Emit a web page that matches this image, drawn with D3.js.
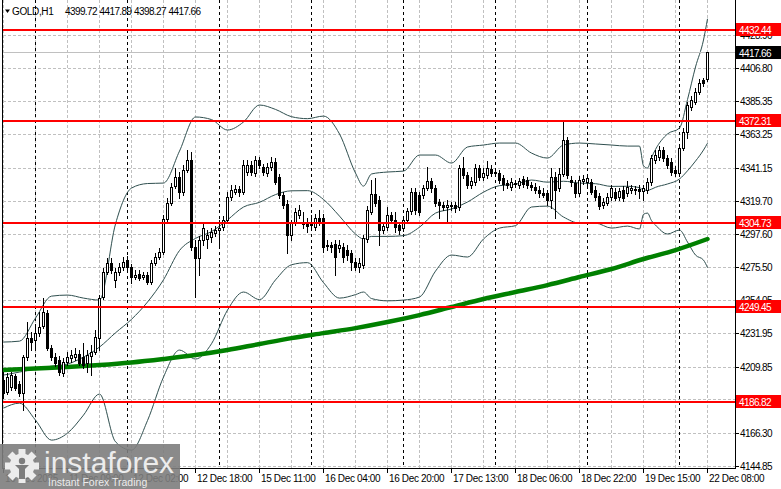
<!DOCTYPE html>
<html><head><meta charset="utf-8">
<script src="https://cdn.jsdelivr.net/npm/d3@7"></script>
<style>
body{margin:0;background:#fff;}
svg{display:block;}
text{font-family:"Liberation Sans",Arial,sans-serif;}
</style>
</head><body>
<svg id="c" width="781" height="489"></svg>
<script>
// ---------------- DATA ----------------
const symbol = "GOLD,H1";
const opens = [
4201.2,4193.3,4196.6,4203.8,4198.6,4192.6,4216.4,4228.9,4227.6,4232.2,
4236.8,4245.4,4222.3,4216.4,4214.4,4205.8,4213.1,4215.7,4216.4,4218.4,
4216.4,4212.4,4217.0,4219.7,4228.9,4256.0,4272.5,4278.4,4267.2,4272.5,
4275.8,4280.4,4275.8,4269.2,4271.2,4269.2,4270.5,4265.9,4278.4,4282.4,
4285.7,4307.5,4318.0,4329.2,4335.2,4325.3,4339.8,4346.4,4289.0,4281.7,
4293.6,4294.3,4295.6,4298.2,4300.2,4302.2,4306.8,4322.0,4325.3,4327.3,
4325.3,4338.5,4343.1,4337.8,4346.4,4341.8,4337.8,4341.8,4345.1,4335.2,
4323.3,4317.4,4296.9,4305.5,4310.1,4305.5,4305.5,4304.8,4302.2,4308.1,
4308.1,4290.3,4290.3,4291.0,4288.3,4289.0,4287.0,4285.0,4279.1,4275.8,
4277.1,4294.3,4312.1,4324.0,4320.0,4300.2,4302.2,4310.1,4306.8,4303.5,
4301.5,4306.8,4312.7,4325.3,4323.3,4323.3,4327.9,4332.5,4327.9,4318.7,
4316.7,4315.4,4316.0,4316.7,4315.4,4341.1,4336.5,4329.9,4331.9,4341.1,
4335.2,4336.5,4340.5,4338.5,4337.8,4334.5,4331.2,4328.6,4330.6,4329.9,
4333.9,4333.2,4329.9,4328.6,4326.6,4324.6,4324.6,4320.0,4335.2,4327.9,
4337.2,4359.6,4333.2,4331.2,4324.6,4332.5,4331.9,4331.9,4326.6,4322.6,
4316.7,4318.0,4322.0,4325.3,4322.0,4326.6,4324.6,4326.6,4326.6,4327.3,
4325.9,4326.6,4331.9,4346.4,4348.4,4353.0,4347.7,4345.1,4339.8,4337.8,
4354.3,4364.9,4381.4,4384.7,4391.3,4399.2,4399.72];
const highs = [
4206.5,4205.8,4206.5,4205.2,4200.5,4217.7,4239.5,4232.9,4237.5,4246.1,
4255.3,4247.4,4224.3,4219.0,4217.0,4215.7,4219.7,4221.0,4222.3,4221.0,
4225.6,4221.0,4224.3,4234.2,4257.3,4275.1,4281.7,4281.7,4275.1,4278.4,
4282.4,4283.0,4277.8,4273.8,4273.8,4272.5,4272.5,4280.4,4285.0,4288.3,
4310.1,4321.3,4331.2,4341.1,4338.5,4343.1,4353.0,4351.7,4293.6,4296.2,
4304.2,4300.2,4301.5,4302.8,4306.8,4309.4,4325.3,4329.9,4329.9,4329.2,
4346.4,4346.4,4345.7,4349.0,4348.4,4343.8,4344.4,4348.4,4347.7,4337.2,
4325.3,4320.0,4306.8,4314.7,4316.7,4312.1,4308.1,4310.1,4310.8,4313.4,
4310.8,4293.6,4292.3,4293.6,4293.6,4291.6,4290.3,4287.0,4281.7,4281.7,
4296.9,4316.0,4333.2,4334.5,4322.6,4305.5,4315.4,4312.1,4312.1,4305.5,
4309.4,4314.7,4327.9,4327.9,4325.3,4329.9,4341.8,4334.5,4329.9,4320.7,
4318.7,4320.0,4318.7,4318.7,4343.1,4348.4,4338.5,4335.2,4343.8,4343.1,
4341.1,4345.7,4343.1,4341.1,4339.8,4336.5,4333.2,4334.5,4333.2,4334.5,
4335.8,4335.2,4331.9,4331.2,4329.2,4327.9,4326.6,4341.1,4338.5,4341.1,
4372.8,4361.6,4335.8,4333.2,4335.8,4336.5,4337.2,4333.9,4329.2,4324.6,
4321.3,4324.6,4329.9,4327.9,4327.9,4329.2,4332.5,4329.9,4329.2,4329.9,
4329.9,4334.5,4349.7,4353.0,4355.6,4355.0,4349.7,4347.7,4342.4,4356.3,
4367.5,4384.7,4388.6,4393.9,4399.9,4400.5,4417.89];
const lows = [
4189.3,4192.0,4194.6,4194.6,4190.6,4181.4,4214.4,4221.0,4221.0,4230.2,
4235.5,4221.0,4214.4,4210.4,4204.5,4203.8,4211.1,4213.1,4214.4,4211.1,
4209.1,4206.5,4204.5,4218.4,4221.0,4254.7,4271.2,4271.8,4262.6,4270.5,
4273.8,4273.8,4265.2,4267.9,4267.2,4267.9,4264.6,4264.6,4277.1,4281.1,
4284.4,4306.1,4316.7,4327.9,4321.3,4323.3,4338.5,4287.0,4256.0,4270.5,
4290.3,4288.3,4292.3,4296.2,4290.3,4300.2,4305.5,4320.0,4324.0,4322.6,
4324.0,4336.5,4336.5,4335.8,4341.1,4336.5,4335.8,4339.8,4330.6,4321.3,
4314.7,4285.0,4293.6,4303.5,4308.1,4301.5,4298.9,4300.2,4300.2,4303.5,
4285.7,4287.0,4285.7,4270.5,4285.7,4279.1,4280.4,4273.8,4273.8,4272.5,
4275.1,4292.3,4310.8,4316.0,4290.3,4298.2,4300.2,4304.8,4298.9,4297.6,
4299.5,4304.8,4310.8,4310.8,4310.1,4321.3,4326.6,4325.3,4316.0,4308.1,
4313.4,4305.5,4313.4,4312.1,4313.4,4334.5,4327.9,4327.9,4329.9,4333.2,
4333.2,4334.5,4335.8,4335.8,4331.2,4326.6,4327.9,4326.6,4328.6,4327.9,
4328.6,4327.9,4326.6,4324.6,4322.0,4322.0,4316.7,4314.7,4308.1,4325.9,
4335.8,4334.5,4329.2,4322.0,4322.6,4330.6,4329.9,4324.0,4320.0,4314.1,
4314.7,4316.7,4320.0,4320.0,4320.0,4319.3,4322.6,4324.6,4324.0,4321.3,
4320.0,4324.6,4329.9,4344.4,4346.4,4345.7,4341.1,4336.5,4335.8,4335.8,
4353.0,4360.9,4379.4,4383.4,4390.0,4395.2,4398.27];
const closes = [
4192.6,4203.2,4204.5,4195.9,4192.6,4216.4,4228.9,4226.3,4232.2,4236.2,
4246.1,4222.3,4216.4,4212.4,4206.5,4213.1,4216.4,4217.7,4218.4,4212.4,
4211.1,4217.7,4219.7,4229.6,4255.3,4272.5,4278.4,4273.8,4272.5,4275.8,
4279.1,4275.8,4269.2,4270.5,4268.5,4270.5,4265.9,4278.4,4282.4,4285.7,
4307.5,4318.0,4328.6,4335.2,4325.3,4339.8,4346.4,4289.0,4281.7,4293.6,
4301.5,4296.9,4298.9,4300.2,4301.5,4306.8,4322.0,4326.6,4327.3,4325.3,
4343.1,4343.1,4338.5,4346.4,4343.1,4338.5,4341.8,4345.1,4331.9,4323.3,
4316.7,4296.9,4304.8,4312.1,4313.4,4304.2,4302.8,4303.5,4308.1,4305.5,
4289.0,4289.6,4289.0,4282.4,4290.3,4282.4,4283.7,4279.1,4275.8,4278.4,
4294.9,4313.4,4324.0,4318.0,4300.2,4302.8,4310.1,4306.8,4302.2,4300.2,
4306.8,4312.7,4325.3,4313.4,4312.1,4327.9,4332.5,4327.9,4318.0,4316.7,
4315.4,4316.7,4316.7,4314.7,4341.1,4336.5,4329.9,4332.5,4341.1,4335.2,
4337.8,4341.1,4337.8,4337.8,4333.2,4330.6,4329.9,4331.9,4331.2,4332.5,
4330.6,4329.9,4328.6,4326.6,4324.6,4323.3,4320.0,4335.2,4326.6,4337.2,
4359.6,4336.5,4331.9,4324.6,4333.2,4333.9,4334.5,4325.3,4322.0,4316.0,
4318.7,4322.0,4327.9,4321.3,4325.9,4321.3,4328.6,4327.9,4327.3,4325.9,
4327.9,4331.9,4347.7,4349.7,4353.0,4347.7,4343.1,4338.5,4337.8,4354.3,
4364.9,4382.7,4386.0,4391.3,4397.2,4397.2,4417.66];

// Bollinger bands, sampled at bar indices
const bbBars = [0,4,8,12,16,20,24,28,32,36,40,44,48,52,56,60,64,68,72,76,80,84,88,90,92,96,100,104,108,112,116,120,124,128,132,136,140,144,148,152,156,159,160,161,162,163,166,169,171,173,175,176];
const bbUpper = [4226.3,4226.9,4242.1,4256.6,4257.3,4255.3,4254.0,4304.2,4327.9,4330.9,4331.2,4352.3,4374.8,4373.1,4366.2,4371.5,4382.7,4379.8,4375.0,4373.7,4375.4,4363.6,4337.8,4329.2,4337.2,4338.5,4339.1,4349.7,4349.7,4344.4,4355.0,4356.3,4357.6,4357.6,4351.0,4347.7,4356.3,4357.6,4357.0,4356.3,4355.6,4355.6,4342.6,4341.1,4348.0,4353.4,4363.6,4367.5,4386.3,4407.8,4425.6,4439.6];
const bbMiddle = [4204.5,4206.5,4208.5,4210.4,4211.8,4216.4,4223.0,4232.4,4241.3,4252.7,4267.4,4286.7,4294.7,4299.2,4306.9,4315.4,4318.5,4323.6,4326.1,4326.2,4320.4,4309.4,4297.6,4294.3,4296.0,4296.0,4296.5,4302.1,4311.4,4314.1,4318.7,4325.2,4329.5,4330.4,4333.2,4331.8,4332.4,4331.2,4330.8,4329.0,4329.1,4328.2,4326.6,4326.4,4327.2,4328.4,4330.6,4333.9,4339.3,4345.7,4353.0,4357.5];
const bbLower = [4182.7,4186.0,4174.8,4161.6,4166.2,4178.1,4192.0,4160.5,4155.0,4174.5,4203.2,4221.0,4215.1,4225.2,4247.4,4259.3,4254.3,4267.3,4277.3,4278.7,4265.5,4255.3,4257.6,4259.3,4255.0,4253.5,4254.0,4256.0,4273.1,4283.7,4282.4,4294.3,4301.5,4303.1,4315.4,4316.0,4308.8,4304.8,4304.8,4301.5,4302.8,4300.9,4310.6,4311.4,4306.4,4303.5,4297.6,4300.2,4292.3,4283.7,4280.4,4275.4];

// Moving average (thick green), sampled every 8 bars
const maBars = [0,8,16,24,32,40,48,56,64,72,80,88,96,104,112,120,128,136,144,152,160,168,176];
const maValues = [4207.8,4208.8,4209.8,4211.1,4212.8,4215.1,4217.7,4221.0,4225.0,4228.9,4232.2,4235.5,4239.5,4244.1,4249.4,4254.7,4259.3,4263.9,4269.2,4274.5,4281.1,4287.0,4294.3];

// Horizontal levels
const levels = [4432.44, 4372.31, 4304.73, 4249.45, 4186.82];
const lastPrice = 4417.66;

// Price axis ticks
const priceTicks = [4144.85,4166.30,4188.40,4209.85,4231.95,4254.05,4275.50,4297.60,4319.70,4341.15,4363.25,4385.35,4406.80,4428.90];

// Time axis labels (bar index -> label)
const timeBars = [0,16,32,48,64,80,96,112,128,144,160,176];
const timeLabels = ["10 Dec 2025","11 Dec 09:00","12 Dec 02:00","12 Dec 18:00","15 Dec 11:00","16 Dec 04:00","16 Dec 20:00","17 Dec 13:00","18 Dec 06:00","18 Dec 22:00","19 Dec 15:00","22 Dec 08:00"];
// Day separators (first bar of each day)
const dayStartBars = [8,31,54,77,100,123,146,169];

// ---------------- DRAW ----------------
const W = 781, H = 489;
const plotL = 3, plotR = 735, plotB = 468;
const n = closes.length;
const svg = d3.select("#c");
const x = d3.scaleLinear().domain([0, n - 1]).range([3, 707]);
const y = d3.scaleLinear().domain([4144.85, 4428.90]).range([465.5, 35]);
const px = i => Math.round(x(i));
const py = v => Math.round(y(v));

svg.append("rect").attr("width", W).attr("height", H).attr("fill", "#fff");
svg.append("clipPath").attr("id", "clip").append("rect")
  .attr("x", plotL).attr("y", 0).attr("width", plotR - plotL).attr("height", plotB);
const plot = svg.append("g").attr("clip-path", "url(#clip)");

// horizontal grid
plot.selectAll(".hg").data(priceTicks).join("line")
  .attr("x1", plotL).attr("x2", plotR)
  .attr("y1", d => py(d) + 0.5).attr("y2", d => py(d) + 0.5)
  .attr("stroke", "#c0c0c0").attr("stroke-dasharray", "3,2");
// vertical grid
const gridBars = d3.range(0, n, 8);
plot.selectAll(".vg").data(gridBars).join("line")
  .attr("x1", d => px(d) + 0.5).attr("x2", d => px(d) + 0.5)
  .attr("y1", 0).attr("y2", plotB)
  .attr("stroke", "#c0c0c0").attr("stroke-dasharray", "3,2");
// day separators
plot.selectAll(".ds").data(dayStartBars).join("line")
  .attr("x1", d => px(d) + 0.5).attr("x2", d => px(d) + 0.5)
  .attr("y1", 0).attr("y2", plotB)
  .attr("stroke", "#000").attr("stroke-dasharray", "3,3");

// Bollinger bands
const bandLine = d3.line().x((d, i) => x(bbBars[i]) + 0.5).y(d => y(d)).curve(d3.curveMonotoneX);
[bbUpper, bbMiddle, bbLower].forEach(arr => {
  plot.append("path").attr("d", bandLine(arr)).attr("fill", "none")
    .attr("stroke", "#2f4f4f").attr("stroke-width", 1);
});

// Moving average
const maLine = d3.line().x((d, i) => x(maBars[i]) + 0.5).y(d => y(d)).curve(d3.curveMonotoneX);
plot.append("path").attr("d", maLine(maValues)).attr("fill", "none")
  .attr("stroke", "#008000").attr("stroke-width", 4.5).attr("stroke-linecap", "round");

// last price line
plot.append("line").attr("x1", plotL).attr("x2", plotR)
  .attr("y1", py(lastPrice) + 0.5).attr("y2", py(lastPrice) + 0.5)
  .attr("stroke", "#c0c0c0");

// candles
const idx = d3.range(n);
const cg = plot.append("g");
cg.selectAll(".wick").data(idx).join("line")
  .attr("x1", i => px(i) + 0.5).attr("x2", i => px(i) + 0.5)
  .attr("y1", i => py(highs[i])).attr("y2", i => py(lows[i]) + 1)
  .attr("stroke", "#000").attr("stroke-width", 1);
cg.selectAll(".body").data(idx).join("rect")
  .attr("x", i => px(i) - 0.5)
  .attr("y", i => Math.min(py(opens[i]), py(closes[i])) + 0.5)
  .attr("width", 2)
  .attr("height", i => Math.max(0, Math.abs(py(opens[i]) - py(closes[i]))))
  .attr("fill", i => closes[i] >= opens[i] ? "#fff" : "#000")
  .attr("stroke", "#000").attr("stroke-width", 1);

// level lines
plot.selectAll(".lvl").data(levels).join("line")
  .attr("x1", plotL).attr("x2", plotR)
  .attr("y1", d => py(d)).attr("y2", d => py(d))
  .attr("stroke", "#ff0000").attr("stroke-width", 2);

// frame
svg.append("line").attr("x1", 2.5).attr("x2", 2.5).attr("y1", 0).attr("y2", plotB + 1).attr("stroke", "#000");
svg.append("line").attr("x1", plotR + 0.5).attr("x2", plotR + 0.5).attr("y1", 0).attr("y2", plotB + 1).attr("stroke", "#000");
svg.append("line").attr("x1", 2).attr("x2", plotR + 1).attr("y1", plotB + 0.5).attr("y2", plotB + 0.5).attr("stroke", "#000");

// price axis
const fontSize = 10, ls = -0.35, lsNum = -0.6;
svg.selectAll(".pt").data(priceTicks).join("line")
  .attr("x1", plotR + 1).attr("x2", plotR + 4)
  .attr("y1", d => py(d) + 0.5).attr("y2", d => py(d) + 0.5).attr("stroke", "#000");
// tick labels fully hidden under a level label are not drawn
const visibleTicks = priceTicks.filter(t => !levels.some(l => Math.abs(py(l) - py(t)) < 4));
svg.selectAll(".pl").data(visibleTicks).join("text")
  .attr("x", plotR + 5).attr("y", d => py(d) + 4)
  .attr("font-size", fontSize).attr("letter-spacing", lsNum).attr("fill", "#000")
  .text(d => d.toFixed(2));

// level labels
const lg = svg.selectAll(".ll").data(levels).join("g");
lg.append("rect").attr("x", plotR + 1).attr("y", d => py(d) - 7).attr("width", W - plotR - 1).attr("height", 13).attr("fill", "#ff0000");
lg.append("text").attr("x", plotR + 4).attr("y", d => py(d) + 4)
  .attr("font-size", fontSize).attr("letter-spacing", lsNum).attr("fill", "#fff").text(d => d.toFixed(2));
// last price label
svg.append("rect").attr("x", plotR + 1).attr("y", py(lastPrice) - 6).attr("width", W - plotR - 1).attr("height", 13).attr("fill", "#000");
svg.append("text").attr("x", plotR + 4).attr("y", py(lastPrice) + 5)
  .attr("font-size", fontSize).attr("letter-spacing", lsNum).attr("fill", "#fff").text(lastPrice.toFixed(2));

// time axis
svg.selectAll(".tt").data(timeBars).join("line")
  .attr("x1", d => px(d) + 0.5).attr("x2", d => px(d) + 0.5)
  .attr("y1", plotB + 1).attr("y2", plotB + 5).attr("stroke", "#000");
svg.selectAll(".tl").data(timeBars).join("text")
  .attr("x", d => px(d) + 2).attr("y", 482)
  .attr("font-size", fontSize).attr("letter-spacing", ls).attr("fill", "#000")
  .text((d, i) => timeLabels[i]);

// header
const last = n - 1;
svg.append("path").attr("d", "M5,9.5 L10,9.5 L7.5,13 Z").attr("fill", "#000");
svg.append("text").attr("x", 12).attr("y", 15).attr("font-size", fontSize).attr("letter-spacing", ls).text(symbol);
const hdrVals = [opens[last], highs[last], lows[last], closes[last]];
svg.selectAll(".hv").data(hdrVals).join("text")
  .attr("x", (d, i) => 65 + i * 34.5).attr("y", 15)
  .attr("font-size", fontSize).attr("letter-spacing", lsNum).text(d => d.toFixed(2));

// watermark logo
const logo = svg.append("g");
logo.append("rect").attr("x", 0).attr("y", 444).attr("width", 180).attr("height", 45)
  .attr("fill", "#7d7d7d").attr("opacity", 0.9);
const gear = logo.append("g").attr("transform", "translate(22,466)");
d3.range(8).forEach(k => {
  gear.append("rect").attr("x", -3.5).attr("y", -17).attr("width", 7).attr("height", 8)
    .attr("fill", "#ececec").attr("transform", `rotate(${k * 45})`);
});
gear.append("circle").attr("r", 12.5).attr("fill", "#ececec");
gear.append("circle").attr("cy", -5).attr("r", 3.2).attr("fill", "#7d7d7d");
gear.append("path").attr("d", "M-7,-1 L7,-1 L3,3 L3,13 L-3,13 L-3,3 Z").attr("fill", "#7d7d7d");
logo.append("text").attr("x", 44).attr("y", 473).attr("font-size", 30).attr("fill", "#ececec").text("instaforex");
logo.append("text").attr("x", 48).attr("y", 486).attr("font-size", 10.5).attr("fill", "#ececec").text("Instant Forex Trading");
</script>
</body></html>
